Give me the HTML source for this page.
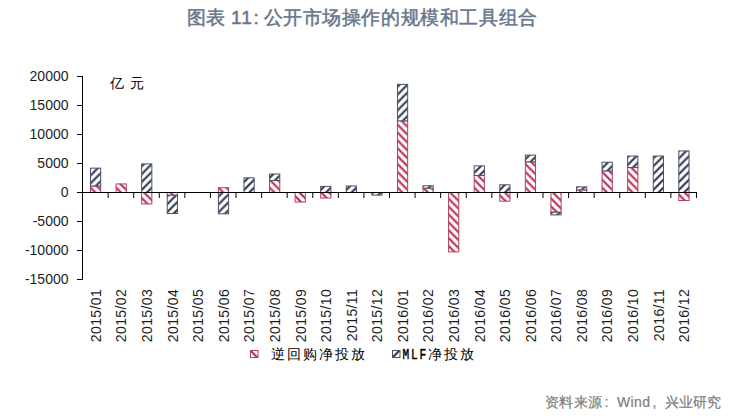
<!DOCTYPE html>
<html><head><meta charset="utf-8"><style>
html,body{margin:0;padding:0;background:#fff;width:753px;height:419px;overflow:hidden}
svg{position:absolute;left:0;top:0;font-family:"Liberation Sans",sans-serif}
</style></head><body>
<svg width="753" height="419" viewBox="0 0 753 419">
<defs>
<pattern id="lr" patternUnits="userSpaceOnUse" x="250" y="358" width="7.87" height="7.87"><path d="M-2,-2 L9.87,9.87 M-2,5.87 L2,9.87 M5.87,-2 L9.87,2" stroke="#bd3055" stroke-width="2.2"/></pattern>
<pattern id="lm" patternUnits="userSpaceOnUse" x="392" y="358" width="7.87" height="7.87"><path d="M-2,9.87 L9.87,-2 M-2,2 L2,-2 M5.87,9.87 L9.87,5.87" stroke="#323a52" stroke-width="2.2"/></pattern>
<pattern id="p1" patternUnits="userSpaceOnUse" x="90.47" y="195.40" width="7.87" height="7.87"><path d="M-2,-2 L9.87,9.87 M-2,5.87 L2,9.87 M5.87,-2 L9.87,2" stroke="#bd3055" stroke-width="2.2"/></pattern><pattern id="p2" patternUnits="userSpaceOnUse" x="90.47" y="191.30" width="7.87" height="7.87"><path d="M-2,9.87 L9.87,-2 M-2,2 L2,-2 M5.87,9.87 L9.87,5.87" stroke="#323a52" stroke-width="2.2"/></pattern><pattern id="p3" patternUnits="userSpaceOnUse" x="116.06" y="195.40" width="7.87" height="7.87"><path d="M-2,-2 L9.87,9.87 M-2,5.87 L2,9.87 M5.87,-2 L9.87,2" stroke="#bd3055" stroke-width="2.2"/></pattern><pattern id="p4" patternUnits="userSpaceOnUse" x="141.63" y="205.83" width="7.87" height="7.87"><path d="M-2,-2 L9.87,9.87 M-2,5.87 L2,9.87 M5.87,-2 L9.87,2" stroke="#bd3055" stroke-width="2.2"/></pattern><pattern id="p5" patternUnits="userSpaceOnUse" x="141.63" y="197.80" width="7.87" height="7.87"><path d="M-2,9.87 L9.87,-2 M-2,2 L2,-2 M5.87,9.87 L9.87,5.87" stroke="#323a52" stroke-width="2.2"/></pattern><pattern id="p6" patternUnits="userSpaceOnUse" x="167.22" y="197.13" width="7.87" height="7.87"><path d="M-2,-2 L9.87,9.87 M-2,5.87 L2,9.87 M5.87,-2 L9.87,2" stroke="#bd3055" stroke-width="2.2"/></pattern><pattern id="p7" patternUnits="userSpaceOnUse" x="167.22" y="220.00" width="7.87" height="7.87"><path d="M-2,9.87 L9.87,-2 M-2,2 L2,-2 M5.87,9.87 L9.87,5.87" stroke="#323a52" stroke-width="2.2"/></pattern><pattern id="p8" patternUnits="userSpaceOnUse" x="218.38" y="195.40" width="7.87" height="7.87"><path d="M-2,-2 L9.87,9.87 M-2,5.87 L2,9.87 M5.87,-2 L9.87,2" stroke="#bd3055" stroke-width="2.2"/></pattern><pattern id="p9" patternUnits="userSpaceOnUse" x="218.38" y="220.29" width="7.87" height="7.87"><path d="M-2,9.87 L9.87,-2 M-2,2 L2,-2 M5.87,9.87 L9.87,5.87" stroke="#323a52" stroke-width="2.2"/></pattern><pattern id="p10" patternUnits="userSpaceOnUse" x="243.95" y="197.80" width="7.87" height="7.87"><path d="M-2,9.87 L9.87,-2 M-2,2 L2,-2 M5.87,9.87 L9.87,5.87" stroke="#323a52" stroke-width="2.2"/></pattern><pattern id="p11" patternUnits="userSpaceOnUse" x="269.54" y="195.40" width="7.87" height="7.87"><path d="M-2,-2 L9.87,9.87 M-2,5.87 L2,9.87 M5.87,-2 L9.87,2" stroke="#bd3055" stroke-width="2.2"/></pattern><pattern id="p12" patternUnits="userSpaceOnUse" x="269.54" y="185.79" width="7.87" height="7.87"><path d="M-2,9.87 L9.87,-2 M-2,2 L2,-2 M5.87,9.87 L9.87,5.87" stroke="#323a52" stroke-width="2.2"/></pattern><pattern id="p13" patternUnits="userSpaceOnUse" x="295.11" y="203.91" width="7.87" height="7.87"><path d="M-2,-2 L9.87,9.87 M-2,5.87 L2,9.87 M5.87,-2 L9.87,2" stroke="#bd3055" stroke-width="2.2"/></pattern><pattern id="p14" patternUnits="userSpaceOnUse" x="320.69" y="199.91" width="7.87" height="7.87"><path d="M-2,-2 L9.87,9.87 M-2,5.87 L2,9.87 M5.87,-2 L9.87,2" stroke="#bd3055" stroke-width="2.2"/></pattern><pattern id="p15" patternUnits="userSpaceOnUse" x="320.69" y="197.80" width="7.87" height="7.87"><path d="M-2,9.87 L9.87,-2 M-2,2 L2,-2 M5.87,9.87 L9.87,5.87" stroke="#323a52" stroke-width="2.2"/></pattern><pattern id="p16" patternUnits="userSpaceOnUse" x="346.27" y="197.80" width="7.87" height="7.87"><path d="M-2,9.87 L9.87,-2 M-2,2 L2,-2 M5.87,9.87 L9.87,5.87" stroke="#323a52" stroke-width="2.2"/></pattern><pattern id="p17" patternUnits="userSpaceOnUse" x="371.85" y="201.61" width="7.87" height="7.87"><path d="M-2,9.87 L9.87,-2 M-2,2 L2,-2 M5.87,9.87 L9.87,5.87" stroke="#323a52" stroke-width="2.2"/></pattern><pattern id="p18" patternUnits="userSpaceOnUse" x="397.44" y="195.40" width="7.87" height="7.87"><path d="M-2,-2 L9.87,9.87 M-2,5.87 L2,9.87 M5.87,-2 L9.87,2" stroke="#bd3055" stroke-width="2.2"/></pattern><pattern id="p19" patternUnits="userSpaceOnUse" x="397.44" y="126.17" width="7.87" height="7.87"><path d="M-2,9.87 L9.87,-2 M-2,2 L2,-2 M5.87,9.87 L9.87,5.87" stroke="#323a52" stroke-width="2.2"/></pattern><pattern id="p20" patternUnits="userSpaceOnUse" x="423.01" y="195.40" width="7.87" height="7.87"><path d="M-2,-2 L9.87,9.87 M-2,5.87 L2,9.87 M5.87,-2 L9.87,2" stroke="#bd3055" stroke-width="2.2"/></pattern><pattern id="p21" patternUnits="userSpaceOnUse" x="423.01" y="193.45" width="7.87" height="7.87"><path d="M-2,9.87 L9.87,-2 M-2,2 L2,-2 M5.87,9.87 L9.87,5.87" stroke="#323a52" stroke-width="2.2"/></pattern><pattern id="p22" patternUnits="userSpaceOnUse" x="448.59" y="253.79" width="7.87" height="7.87"><path d="M-2,-2 L9.87,9.87 M-2,5.87 L2,9.87 M5.87,-2 L9.87,2" stroke="#bd3055" stroke-width="2.2"/></pattern><pattern id="p23" patternUnits="userSpaceOnUse" x="474.17" y="195.40" width="7.87" height="7.87"><path d="M-2,-2 L9.87,9.87 M-2,5.87 L2,9.87 M5.87,-2 L9.87,2" stroke="#bd3055" stroke-width="2.2"/></pattern><pattern id="p24" patternUnits="userSpaceOnUse" x="474.17" y="180.75" width="7.87" height="7.87"><path d="M-2,9.87 L9.87,-2 M-2,2 L2,-2 M5.87,9.87 L9.87,5.87" stroke="#323a52" stroke-width="2.2"/></pattern><pattern id="p25" patternUnits="userSpaceOnUse" x="499.75" y="203.10" width="7.87" height="7.87"><path d="M-2,-2 L9.87,9.87 M-2,5.87 L2,9.87 M5.87,-2 L9.87,2" stroke="#bd3055" stroke-width="2.2"/></pattern><pattern id="p26" patternUnits="userSpaceOnUse" x="499.75" y="197.80" width="7.87" height="7.87"><path d="M-2,9.87 L9.87,-2 M-2,2 L2,-2 M5.87,9.87 L9.87,5.87" stroke="#323a52" stroke-width="2.2"/></pattern><pattern id="p27" patternUnits="userSpaceOnUse" x="525.33" y="195.40" width="7.87" height="7.87"><path d="M-2,-2 L9.87,9.87 M-2,5.87 L2,9.87 M5.87,-2 L9.87,2" stroke="#bd3055" stroke-width="2.2"/></pattern><pattern id="p28" patternUnits="userSpaceOnUse" x="525.33" y="167.18" width="7.87" height="7.87"><path d="M-2,9.87 L9.87,-2 M-2,2 L2,-2 M5.87,9.87 L9.87,5.87" stroke="#323a52" stroke-width="2.2"/></pattern><pattern id="p29" patternUnits="userSpaceOnUse" x="550.91" y="214.12" width="7.87" height="7.87"><path d="M-2,-2 L9.87,9.87 M-2,5.87 L2,9.87 M5.87,-2 L9.87,2" stroke="#bd3055" stroke-width="2.2"/></pattern><pattern id="p30" patternUnits="userSpaceOnUse" x="550.91" y="221.39" width="7.87" height="7.87"><path d="M-2,9.87 L9.87,-2 M-2,2 L2,-2 M5.87,9.87 L9.87,5.87" stroke="#323a52" stroke-width="2.2"/></pattern><pattern id="p31" patternUnits="userSpaceOnUse" x="576.49" y="195.40" width="7.87" height="7.87"><path d="M-2,-2 L9.87,9.87 M-2,5.87 L2,9.87 M5.87,-2 L9.87,2" stroke="#bd3055" stroke-width="2.2"/></pattern><pattern id="p32" patternUnits="userSpaceOnUse" x="576.49" y="195.19" width="7.87" height="7.87"><path d="M-2,9.87 L9.87,-2 M-2,2 L2,-2 M5.87,9.87 L9.87,5.87" stroke="#323a52" stroke-width="2.2"/></pattern><pattern id="p33" patternUnits="userSpaceOnUse" x="602.07" y="195.40" width="7.87" height="7.87"><path d="M-2,-2 L9.87,9.87 M-2,5.87 L2,9.87 M5.87,-2 L9.87,2" stroke="#bd3055" stroke-width="2.2"/></pattern><pattern id="p34" patternUnits="userSpaceOnUse" x="602.07" y="176.17" width="7.87" height="7.87"><path d="M-2,9.87 L9.87,-2 M-2,2 L2,-2 M5.87,9.87 L9.87,5.87" stroke="#323a52" stroke-width="2.2"/></pattern><pattern id="p35" patternUnits="userSpaceOnUse" x="627.65" y="195.40" width="7.87" height="7.87"><path d="M-2,-2 L9.87,9.87 M-2,5.87 L2,9.87 M5.87,-2 L9.87,2" stroke="#bd3055" stroke-width="2.2"/></pattern><pattern id="p36" patternUnits="userSpaceOnUse" x="627.65" y="172.86" width="7.87" height="7.87"><path d="M-2,9.87 L9.87,-2 M-2,2 L2,-2 M5.87,9.87 L9.87,5.87" stroke="#323a52" stroke-width="2.2"/></pattern><pattern id="p37" patternUnits="userSpaceOnUse" x="653.23" y="197.80" width="7.87" height="7.87"><path d="M-2,9.87 L9.87,-2 M-2,2 L2,-2 M5.87,9.87 L9.87,5.87" stroke="#323a52" stroke-width="2.2"/></pattern><pattern id="p38" patternUnits="userSpaceOnUse" x="678.81" y="202.40" width="7.87" height="7.87"><path d="M-2,-2 L9.87,9.87 M-2,5.87 L2,9.87 M5.87,-2 L9.87,2" stroke="#bd3055" stroke-width="2.2"/></pattern><pattern id="p39" patternUnits="userSpaceOnUse" x="678.81" y="197.80" width="7.87" height="7.87"><path d="M-2,9.87 L9.87,-2 M-2,2 L2,-2 M5.87,9.87 L9.87,5.87" stroke="#323a52" stroke-width="2.2"/></pattern>
</defs>
<g font-size="19" fill="#6a768c" stroke="#6a768c" stroke-width="0.5">
<text x="186.8" y="23.9">图表</text>
<text x="231" y="23.9" letter-spacing="1.2">11</text><text x="253.6" y="23.9">:</text>
<text x="263.5" y="23.9" letter-spacing="0.6">公开市场操作的规模和工具组合</text>
</g>
<rect x="90.47" y="186.00" width="10.23" height="6.50" fill="#fff"/><rect x="90.47" y="186.00" width="10.23" height="6.50" fill="url(#p1)" stroke="#b04060" stroke-width="1"/><rect x="90.47" y="168.14" width="10.23" height="17.86" fill="#fff"/><rect x="90.47" y="168.14" width="10.23" height="17.86" fill="url(#p2)" stroke="#4a5266" stroke-width="1"/><rect x="116.06" y="183.92" width="10.23" height="8.58" fill="#fff"/><rect x="116.06" y="183.92" width="10.23" height="8.58" fill="url(#p3)" stroke="#b04060" stroke-width="1"/><rect x="141.63" y="192.50" width="10.23" height="11.43" fill="#fff"/><rect x="141.63" y="192.50" width="10.23" height="11.43" fill="url(#p4)" stroke="#b04060" stroke-width="1"/><rect x="141.63" y="163.91" width="10.23" height="28.59" fill="#fff"/><rect x="141.63" y="163.91" width="10.23" height="28.59" fill="url(#p5)" stroke="#4a5266" stroke-width="1"/><rect x="167.22" y="192.50" width="10.23" height="2.73" fill="#fff"/><rect x="167.22" y="192.50" width="10.23" height="2.73" fill="url(#p6)" stroke="#b04060" stroke-width="1"/><rect x="167.22" y="195.23" width="10.23" height="18.27" fill="#fff"/><rect x="167.22" y="195.23" width="10.23" height="18.27" fill="url(#p7)" stroke="#4a5266" stroke-width="1"/><rect x="218.38" y="187.69" width="10.23" height="4.81" fill="#fff"/><rect x="218.38" y="187.69" width="10.23" height="4.81" fill="url(#p8)" stroke="#b04060" stroke-width="1"/><rect x="218.38" y="192.50" width="10.23" height="21.29" fill="#fff"/><rect x="218.38" y="192.50" width="10.23" height="21.29" fill="url(#p9)" stroke="#4a5266" stroke-width="1"/><rect x="243.95" y="177.83" width="10.23" height="14.67" fill="#fff"/><rect x="243.95" y="177.83" width="10.23" height="14.67" fill="url(#p10)" stroke="#4a5266" stroke-width="1"/><rect x="269.54" y="180.49" width="10.23" height="12.01" fill="#fff"/><rect x="269.54" y="180.49" width="10.23" height="12.01" fill="url(#p11)" stroke="#b04060" stroke-width="1"/><rect x="269.54" y="174.00" width="10.23" height="6.50" fill="#fff"/><rect x="269.54" y="174.00" width="10.23" height="6.50" fill="url(#p12)" stroke="#4a5266" stroke-width="1"/><rect x="295.11" y="192.50" width="10.23" height="9.51" fill="#fff"/><rect x="295.11" y="192.50" width="10.23" height="9.51" fill="url(#p13)" stroke="#b04060" stroke-width="1"/><rect x="320.69" y="192.50" width="10.23" height="5.51" fill="#fff"/><rect x="320.69" y="192.50" width="10.23" height="5.51" fill="url(#p14)" stroke="#b04060" stroke-width="1"/><rect x="320.69" y="186.41" width="10.23" height="6.09" fill="#fff"/><rect x="320.69" y="186.41" width="10.23" height="6.09" fill="url(#p15)" stroke="#4a5266" stroke-width="1"/><rect x="346.27" y="186.00" width="10.23" height="6.50" fill="#fff"/><rect x="346.27" y="186.00" width="10.23" height="6.50" fill="url(#p16)" stroke="#4a5266" stroke-width="1"/><rect x="371.85" y="192.50" width="10.23" height="2.61" fill="#fff"/><rect x="371.85" y="192.50" width="10.23" height="2.61" fill="url(#p17)" stroke="#4a5266" stroke-width="1"/><rect x="397.44" y="120.87" width="10.23" height="71.63" fill="#fff"/><rect x="397.44" y="120.87" width="10.23" height="71.63" fill="url(#p18)" stroke="#b04060" stroke-width="1"/><rect x="397.44" y="84.33" width="10.23" height="36.54" fill="#fff"/><rect x="397.44" y="84.33" width="10.23" height="36.54" fill="url(#p19)" stroke="#4a5266" stroke-width="1"/><rect x="423.01" y="188.15" width="10.23" height="4.35" fill="#fff"/><rect x="423.01" y="188.15" width="10.23" height="4.35" fill="url(#p20)" stroke="#b04060" stroke-width="1"/><rect x="423.01" y="185.77" width="10.23" height="2.38" fill="#fff"/><rect x="423.01" y="185.77" width="10.23" height="2.38" fill="url(#p21)" stroke="#4a5266" stroke-width="1"/><rect x="448.59" y="192.50" width="10.23" height="59.39" fill="#fff"/><rect x="448.59" y="192.50" width="10.23" height="59.39" fill="url(#p22)" stroke="#b04060" stroke-width="1"/><rect x="474.17" y="175.45" width="10.23" height="17.05" fill="#fff"/><rect x="474.17" y="175.45" width="10.23" height="17.05" fill="url(#p23)" stroke="#b04060" stroke-width="1"/><rect x="474.17" y="165.88" width="10.23" height="9.57" fill="#fff"/><rect x="474.17" y="165.88" width="10.23" height="9.57" fill="url(#p24)" stroke="#4a5266" stroke-width="1"/><rect x="499.75" y="192.50" width="10.23" height="8.70" fill="#fff"/><rect x="499.75" y="192.50" width="10.23" height="8.70" fill="url(#p25)" stroke="#b04060" stroke-width="1"/><rect x="499.75" y="184.79" width="10.23" height="7.71" fill="#fff"/><rect x="499.75" y="184.79" width="10.23" height="7.71" fill="url(#p26)" stroke="#4a5266" stroke-width="1"/><rect x="525.33" y="161.88" width="10.23" height="30.62" fill="#fff"/><rect x="525.33" y="161.88" width="10.23" height="30.62" fill="url(#p27)" stroke="#b04060" stroke-width="1"/><rect x="525.33" y="155.09" width="10.23" height="6.79" fill="#fff"/><rect x="525.33" y="155.09" width="10.23" height="6.79" fill="url(#p28)" stroke="#4a5266" stroke-width="1"/><rect x="550.91" y="192.50" width="10.23" height="19.72" fill="#fff"/><rect x="550.91" y="192.50" width="10.23" height="19.72" fill="url(#p29)" stroke="#b04060" stroke-width="1"/><rect x="550.91" y="212.22" width="10.23" height="2.67" fill="#fff"/><rect x="550.91" y="212.22" width="10.23" height="2.67" fill="url(#p30)" stroke="#4a5266" stroke-width="1"/><rect x="576.49" y="189.89" width="10.23" height="2.61" fill="#fff"/><rect x="576.49" y="189.89" width="10.23" height="2.61" fill="url(#p31)" stroke="#b04060" stroke-width="1"/><rect x="576.49" y="186.87" width="10.23" height="3.02" fill="#fff"/><rect x="576.49" y="186.87" width="10.23" height="3.02" fill="url(#p32)" stroke="#4a5266" stroke-width="1"/><rect x="602.07" y="170.87" width="10.23" height="21.63" fill="#fff"/><rect x="602.07" y="170.87" width="10.23" height="21.63" fill="url(#p33)" stroke="#b04060" stroke-width="1"/><rect x="602.07" y="162.22" width="10.23" height="8.64" fill="#fff"/><rect x="602.07" y="162.22" width="10.23" height="8.64" fill="url(#p34)" stroke="#4a5266" stroke-width="1"/><rect x="627.65" y="167.56" width="10.23" height="24.94" fill="#fff"/><rect x="627.65" y="167.56" width="10.23" height="24.94" fill="url(#p35)" stroke="#b04060" stroke-width="1"/><rect x="627.65" y="156.02" width="10.23" height="11.54" fill="#fff"/><rect x="627.65" y="156.02" width="10.23" height="11.54" fill="url(#p36)" stroke="#4a5266" stroke-width="1"/><rect x="653.23" y="156.02" width="10.23" height="36.48" fill="#fff"/><rect x="653.23" y="156.02" width="10.23" height="36.48" fill="url(#p37)" stroke="#4a5266" stroke-width="1"/><rect x="678.81" y="192.50" width="10.23" height="8.00" fill="#fff"/><rect x="678.81" y="192.50" width="10.23" height="8.00" fill="url(#p38)" stroke="#b04060" stroke-width="1"/><rect x="678.81" y="150.91" width="10.23" height="41.59" fill="#fff"/><rect x="678.81" y="150.91" width="10.23" height="41.59" fill="url(#p39)" stroke="#4a5266" stroke-width="1"/>
<g stroke="#000" stroke-width="1">
<line x1="82.5" y1="76" x2="82.5" y2="280"/>
<line x1="77" y1="192.5" x2="697" y2="192.5"/>
<line x1="77" y1="76.5" x2="83" y2="76.5"/><line x1="77" y1="105.5" x2="83" y2="105.5"/><line x1="77" y1="134.5" x2="83" y2="134.5"/><line x1="77" y1="163.5" x2="83" y2="163.5"/><line x1="77" y1="192.5" x2="83" y2="192.5"/><line x1="77" y1="221.5" x2="83" y2="221.5"/><line x1="77" y1="250.5" x2="83" y2="250.5"/><line x1="77" y1="279.5" x2="83" y2="279.5"/><line x1="108.13" y1="192.5" x2="108.13" y2="198"/><line x1="133.71" y1="192.5" x2="133.71" y2="198"/><line x1="159.29" y1="192.5" x2="159.29" y2="198"/><line x1="184.87" y1="192.5" x2="184.87" y2="198"/><line x1="210.45" y1="192.5" x2="210.45" y2="198"/><line x1="236.03" y1="192.5" x2="236.03" y2="198"/><line x1="261.61" y1="192.5" x2="261.61" y2="198"/><line x1="287.19" y1="192.5" x2="287.19" y2="198"/><line x1="312.77" y1="192.5" x2="312.77" y2="198"/><line x1="338.35" y1="192.5" x2="338.35" y2="198"/><line x1="363.93" y1="192.5" x2="363.93" y2="198"/><line x1="389.51" y1="192.5" x2="389.51" y2="198"/><line x1="415.09" y1="192.5" x2="415.09" y2="198"/><line x1="440.67" y1="192.5" x2="440.67" y2="198"/><line x1="466.25" y1="192.5" x2="466.25" y2="198"/><line x1="491.83" y1="192.5" x2="491.83" y2="198"/><line x1="517.41" y1="192.5" x2="517.41" y2="198"/><line x1="542.99" y1="192.5" x2="542.99" y2="198"/><line x1="568.57" y1="192.5" x2="568.57" y2="198"/><line x1="594.15" y1="192.5" x2="594.15" y2="198"/><line x1="619.73" y1="192.5" x2="619.73" y2="198"/><line x1="645.31" y1="192.5" x2="645.31" y2="198"/><line x1="670.89" y1="192.5" x2="670.89" y2="198"/><line x1="696.47" y1="192.5" x2="696.47" y2="198"/>
</g>
<g font-size="14" fill="#1e1e1e">
<text x="68.5" y="81.1" text-anchor="end">20000</text><text x="68.5" y="110.1" text-anchor="end">15000</text><text x="68.5" y="139.1" text-anchor="end">10000</text><text x="68.5" y="168.1" text-anchor="end">5000</text><text x="68.5" y="197.1" text-anchor="end">0</text><text x="68.5" y="226.1" text-anchor="end">-5000</text><text x="68.5" y="255.1" text-anchor="end">-10000</text><text x="68.5" y="284.1" text-anchor="end">-15000</text>
<text transform="translate(100.89,288.8) rotate(-90)" text-anchor="end" letter-spacing="0.4">2015/01</text><text transform="translate(126.47,288.8) rotate(-90)" text-anchor="end" letter-spacing="0.4">2015/02</text><text transform="translate(152.05,288.8) rotate(-90)" text-anchor="end" letter-spacing="0.4">2015/03</text><text transform="translate(177.63,288.8) rotate(-90)" text-anchor="end" letter-spacing="0.4">2015/04</text><text transform="translate(203.21,288.8) rotate(-90)" text-anchor="end" letter-spacing="0.4">2015/05</text><text transform="translate(228.79,288.8) rotate(-90)" text-anchor="end" letter-spacing="0.4">2015/06</text><text transform="translate(254.37,288.8) rotate(-90)" text-anchor="end" letter-spacing="0.4">2015/07</text><text transform="translate(279.95,288.8) rotate(-90)" text-anchor="end" letter-spacing="0.4">2015/08</text><text transform="translate(305.53,288.8) rotate(-90)" text-anchor="end" letter-spacing="0.4">2015/09</text><text transform="translate(331.11,288.8) rotate(-90)" text-anchor="end" letter-spacing="0.4">2015/10</text><text transform="translate(356.69,288.8) rotate(-90)" text-anchor="end" letter-spacing="0.4">2015/11</text><text transform="translate(382.27,288.8) rotate(-90)" text-anchor="end" letter-spacing="0.4">2015/12</text><text transform="translate(407.85,288.8) rotate(-90)" text-anchor="end" letter-spacing="0.4">2016/01</text><text transform="translate(433.43,288.8) rotate(-90)" text-anchor="end" letter-spacing="0.4">2016/02</text><text transform="translate(459.01,288.8) rotate(-90)" text-anchor="end" letter-spacing="0.4">2016/03</text><text transform="translate(484.59,288.8) rotate(-90)" text-anchor="end" letter-spacing="0.4">2016/04</text><text transform="translate(510.17,288.8) rotate(-90)" text-anchor="end" letter-spacing="0.4">2016/05</text><text transform="translate(535.75,288.8) rotate(-90)" text-anchor="end" letter-spacing="0.4">2016/06</text><text transform="translate(561.33,288.8) rotate(-90)" text-anchor="end" letter-spacing="0.4">2016/07</text><text transform="translate(586.91,288.8) rotate(-90)" text-anchor="end" letter-spacing="0.4">2016/08</text><text transform="translate(612.49,288.8) rotate(-90)" text-anchor="end" letter-spacing="0.4">2016/09</text><text transform="translate(638.07,288.8) rotate(-90)" text-anchor="end" letter-spacing="0.4">2016/10</text><text transform="translate(663.65,288.8) rotate(-90)" text-anchor="end" letter-spacing="0.4">2016/11</text><text transform="translate(689.23,288.8) rotate(-90)" text-anchor="end" letter-spacing="0.4">2016/12</text>
</g>
<text x="110" y="88" font-size="14" letter-spacing="6">亿元</text>
<rect x="250.5" y="350.5" width="7.5" height="7" fill="url(#lr)" stroke="#b04060"/>
<text x="270.5" y="359" font-size="14" letter-spacing="2">逆回购净投放</text>
<rect x="392.5" y="350.5" width="7.5" height="7" fill="url(#lm)" stroke="#4a5266"/>
<text transform="translate(402.6,359.4) scale(0.8,1.05)" font-size="14" font-family="Liberation Mono" stroke="#000" stroke-width="0.45" letter-spacing="2.2">MLF</text><text x="427.5" y="359" font-size="14" letter-spacing="2">净投放</text>
<g font-size="14" fill="#7d7d7d" stroke="#7d7d7d" stroke-width="0.2">
<text x="545" y="407" letter-spacing="0.35">资料来源</text>
<text x="604.6" y="407">:</text>
<text x="617" y="407" letter-spacing="0.4">Wind</text>
<text x="652.4" y="407">,</text>
<text x="665" y="407">兴业研究</text>
</g>
</svg>
</body></html>
